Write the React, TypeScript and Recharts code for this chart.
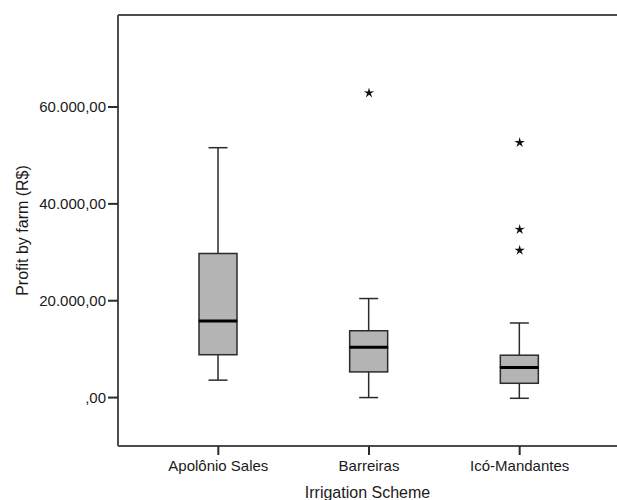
import React from 'react';
import {
  ComposedChart,
  Bar,
  Scatter,
  XAxis,
  YAxis,
  ReferenceLine,
} from 'recharts';

// Box plot summary (R$)
const schemes = ['Apolônio Sales', 'Barreiras', 'Icó-Mandantes'];
const minVals = [3600, 0, -150];
const q1Vals = [8850, 5300, 2950];
const medianVals = [15800, 10400, 6200];
const q3Vals = [29750, 13800, 8750];
const maxVals = [51600, 20450, 15400];

// extreme values (asterisks), one list per rank within a scheme
const extreme1 = [null, 62900, 52650];
const extreme2 = [null, null, 34700];
const extreme3 = [null, null, 30400];

const yTicks = [0, 20000, 40000, 60000];
const yDomain = [-10000, 79000];

const data = schemes.map((s, i) => ({
  scheme: s,
  base: minVals[i],
  lowWhisker: q1Vals[i] - minVals[i],
  lowBox: medianVals[i] - q1Vals[i],
  highBox: q3Vals[i] - medianVals[i],
  highWhisker: maxVals[i] - q3Vals[i],
  e1: extreme1[i],
  e2: extreme2[i],
  e3: extreme3[i],
}));

const LINE = '#2b2b2b';
const FRAME = '#4d4d4d';
const FILL = '#b4b4b4';
const CAP = 9.5;

const formatTick = (v: number) => {
  if (v === 0) return ',00';
  return v.toLocaleString('de-DE') + ',00';
};

const Empty = () => null;

const WhiskerLow = (p: any) => {
  const cx = p.x + p.width / 2;
  const bottom = p.y + p.height;
  return (
    <g>
      <line x1={cx} x2={cx} y1={p.y} y2={bottom} stroke={LINE} strokeWidth={1.5} />
      <line x1={cx - CAP} x2={cx + CAP} y1={bottom} y2={bottom} stroke={LINE} strokeWidth={1.5} />
    </g>
  );
};

const WhiskerHigh = (p: any) => {
  const cx = p.x + p.width / 2;
  return (
    <g>
      <line x1={cx} x2={cx} y1={p.y} y2={p.y + p.height} stroke={LINE} strokeWidth={1.5} />
      <line x1={cx - CAP} x2={cx + CAP} y1={p.y} y2={p.y} stroke={LINE} strokeWidth={1.5} />
    </g>
  );
};

const BoxLow = (p: any) => (
  <rect x={p.x} y={p.y} width={p.width} height={p.height} fill={FILL} stroke={LINE} strokeWidth={1.5} />
);

const BoxHigh = (p: any) => (
  <g>
    <rect x={p.x} y={p.y} width={p.width} height={p.height} fill={FILL} stroke={LINE} strokeWidth={1.5} />
    <line
      x1={p.x}
      x2={p.x + p.width}
      y1={p.y + p.height}
      y2={p.y + p.height}
      stroke="#000"
      strokeWidth={3}
    />
  </g>
);

const Star = (p: any) => {
  const { cx, cy } = p;
  if (!Number.isFinite(cx) || !Number.isFinite(cy)) return <g />;
  const pts: string[] = [];
  for (let k = 0; k < 10; k++) {
    const r = k % 2 === 0 ? 5.5 : 1.9;
    const a = -Math.PI / 2 + (k * Math.PI) / 5;
    pts.push(`${cx + r * Math.cos(a)},${cy + r * Math.sin(a)}`);
  }
  return <polygon points={pts.join(' ')} fill="#111" />;
};

export default function App() {
  return (
    <div style={{ position: 'absolute', left: 0, top: 0, width: 617, height: 500, background: '#fff' }}>
      <ComposedChart
        width={617}
        height={500}
        data={data}
        margin={{ top: 15, right: 0, left: 0, bottom: 0 }}
        style={{ fontFamily: '"Liberation Sans", Arial, sans-serif' }}
      >
        <XAxis
          dataKey="scheme"
          height={54}
          padding={{ left: 25, right: 22 }}
          axisLine={{ stroke: FRAME, strokeWidth: 2 }}
          tickLine={{ stroke: LINE, strokeWidth: 2 }}
          tickSize={9}
          tickMargin={5}
          tick={{ fill: '#1a1a1a', fontSize: 15 }}
          label={{
            value: 'Irrigation Scheme',
            position: 'insideBottom',
            offset: 2,
            style: { fontSize: 16, fill: '#1a1a1a' },
          }}
        />
        <YAxis
          width={118}
          type="number"
          domain={yDomain}
          allowDataOverflow
          ticks={yTicks}
          tickFormatter={formatTick}
          axisLine={{ stroke: FRAME, strokeWidth: 2 }}
          tickLine={{ stroke: LINE, strokeWidth: 2 }}
          tickSize={10}
          tickMargin={2}
          tick={{ fill: '#1a1a1a', fontSize: 15 }}
          label={{
            value: 'Profit by farm (R$)',
            angle: -90,
            position: 'insideLeft',
            offset: 22,
            style: { fontSize: 16, fill: '#1a1a1a', textAnchor: 'middle' },
          }}
        />
        <ReferenceLine y={yDomain[1]} stroke={FRAME} strokeWidth={2} />
        <Bar dataKey="base" stackId="box" barSize={38} shape={Empty} isAnimationActive={false} />
        <Bar dataKey="lowWhisker" stackId="box" barSize={38} shape={WhiskerLow} isAnimationActive={false} />
        <Bar dataKey="lowBox" stackId="box" barSize={38} shape={BoxLow} isAnimationActive={false} />
        <Bar dataKey="highBox" stackId="box" barSize={38} shape={BoxHigh} isAnimationActive={false} />
        <Bar dataKey="highWhisker" stackId="box" barSize={38} shape={WhiskerHigh} isAnimationActive={false} />
        <Scatter dataKey="e1" shape={Star} isAnimationActive={false} />
        <Scatter dataKey="e2" shape={Star} isAnimationActive={false} />
        <Scatter dataKey="e3" shape={Star} isAnimationActive={false} />
      </ComposedChart>
    </div>
  );
}
